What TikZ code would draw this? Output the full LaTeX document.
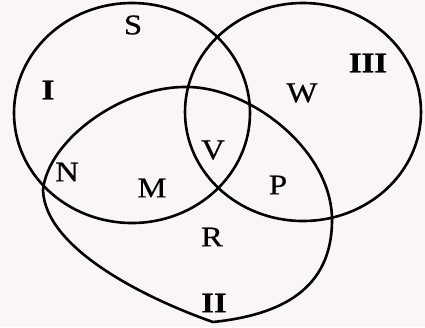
\documentclass[tikz,border=0pt]{standalone}
\usepackage{fontspec}
\setmainfont{Liberation Serif}[FakeStretch=1.15,FakeBold=0.6]
\definecolor{paper}{RGB}{250,246,245}
\tikzset{
  setline/.style={line width=2.6pt, black},
  lbl/.style={font=\fontsize{28.5}{32}\selectfont, inner sep=0pt, anchor=center},
  blbl/.style={font=\fontsize{28.5}{32}\selectfont\bfseries, inner sep=0pt, anchor=center}
}
\begin{document}
\begin{tikzpicture}[x=1pt,y=-1pt]
\fill[paper] (0,0) rectangle (425,327);
\useasboundingbox (0,0) rectangle (425,327);
% set I
\draw[setline] (132,113) ellipse [x radius=118, y radius=110];
% set III
\draw[setline] (303,112) ellipse [x radius=118, y radius=109];
% set II
\draw[setline] (43,190) .. controls (48,140) and (122,86) .. (187,87)
  .. controls (250,87) and (332,150) .. (332,220)
  .. controls (332,290) and (280,315) .. (213,322)
  .. controls (150,300) and (45,250) .. (43,190) -- cycle;
\node[lbl]  (S)   at (133,25)  {S};
\node[blbl] (I)   at (48,90)   {I};
\node[blbl] (III) at (368,63)  {III};
\node[lbl]  (W)   at (302,93)  {W};
\node[lbl]  (V)   at (213,150) {V};
\node[lbl]  (N)   at (67,172)  {N};
\node[lbl]  (M)   at (152,188) {M};
\node[lbl]  (P)   at (278,185) {P};
\node[lbl]  (R)   at (212,237) {R};
\node[blbl] (II)  at (214,303) {II};
\end{tikzpicture}
\end{document}
